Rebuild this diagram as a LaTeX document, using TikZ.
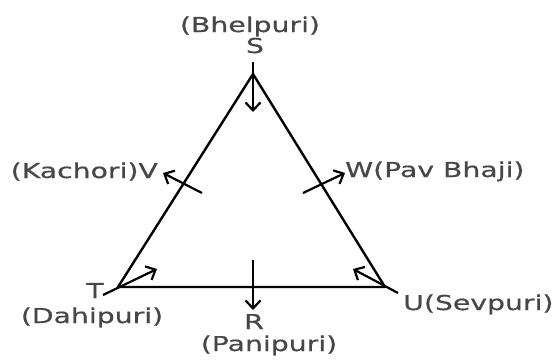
\documentclass[tikz,border=0pt]{standalone}
\usepackage{fontspec}
\setmainfont{DejaVu Sans}[FakeStretch=1.38, FakeBold=0.6]
\usetikzlibrary{arrows.meta}

\begin{document}
\begin{tikzpicture}[x=1pt, y=-1pt, every node/.style={font=\fontsize{20.5}{20.5}\selectfont, text=black!72, inner sep=0pt}, >={Straight Barb[length=8pt, width=15pt, line width=2.2pt]}, side/.style={line width=2.4pt, line join=round}, arw/.style={->, line width=2.2pt}]
	\useasboundingbox (0,0) rectangle (560,362);
	\coordinate (S) at (253,74);
	\coordinate (T) at (118,287);
	\coordinate (U) at (385,287);
	\draw[side] (S) -- (T) -- (U) -- cycle;
	% arrow ends
	\coordinate (s0) at (253,62);   \coordinate (s1) at (253,112);
	\coordinate (v0) at (202,193);  \coordinate (v1) at (163,173);
	\coordinate (w0) at (303,193);  \coordinate (w1) at (345,173);
	\coordinate (r0) at (253,260);  \coordinate (r1) at (253,310);
	\coordinate (t0) at (103,295);  \coordinate (t1) at (157,269);
	\coordinate (u0) at (398,293);  \coordinate (u1) at (353,269);
	\draw[arw] (s0) -- (s1);
	\draw[arw] (v0) -- (v1);
	\draw[arw] (w0) -- (w1);
	\draw[arw] (r0) -- (r1);
	\draw[arw] (t0) -- (t1);
	\draw[arw] (u0) -- (u1);
	% labels
	\node[anchor=base] (bhel) at (250,32) {(Bhelpuri)};
	\node[anchor=base] (sl) at (255,53) {S};
	\node[anchor=base east] (kach) at (158,178) {(Kachori)V};
	\node[anchor=base west] (pav) at (345,177) {W(Pav Bhaji)};
	\node[anchor=base] (tl) at (95,298) {T};
	\node[anchor=base] (dahi) at (92,323) {(Dahipuri)};
	\node[anchor=base] (rl) at (254,329) {R};
	\node[anchor=base] (pani) at (269,351) {(Panipuri)};
	\node[anchor=base west] (sev) at (403,310) {U(Sevpuri)};
\end{tikzpicture}
\end{document}
